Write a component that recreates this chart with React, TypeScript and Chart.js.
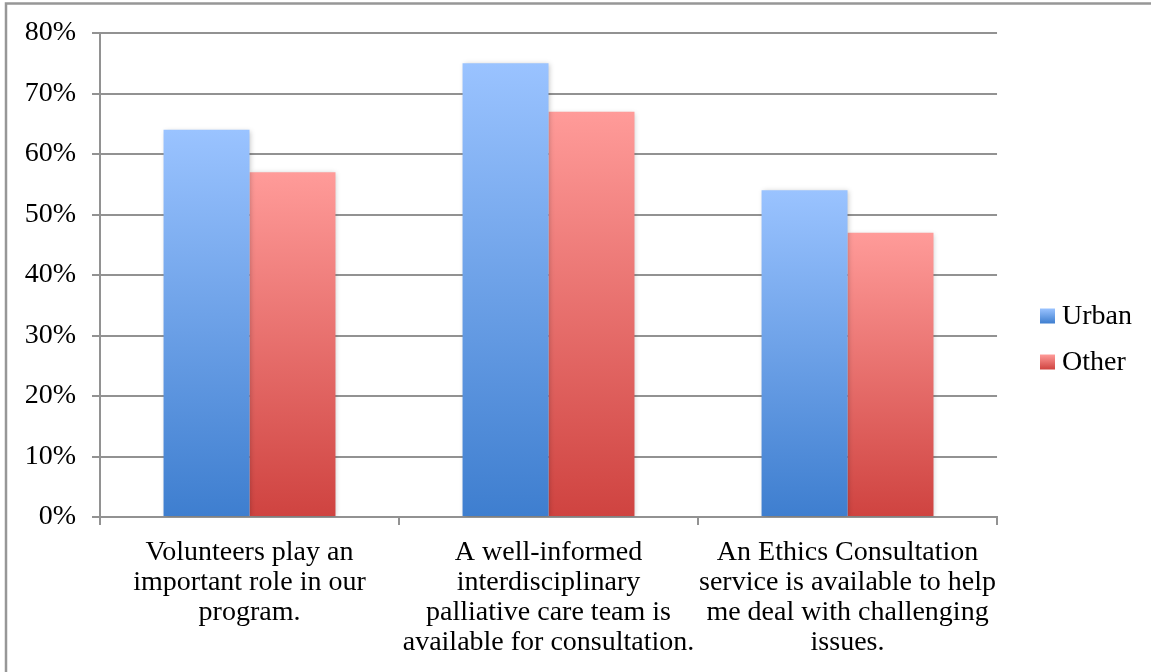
import React, { useEffect, useRef } from "react";
import { Chart, registerables } from "chart.js";

Chart.register(...registerables);

const CATEGORIES: string[][] = [
  ["Volunteers play an", "important role in our", "program."],
  ["A well-informed", "interdisciplinary", "palliative care team is", "available for consultation."],
  ["An Ethics Consultation", "service is available to help", "me deal with challenging", "issues."],
];
const SERIES_NAMES = ["Urban", "Other"];
const URBAN = [64, 75, 54];
const OTHER = [57, 67, 47];
const Y_MIN = 0;
const Y_MAX = 80;
const Y_STEP = 10;

const GRADIENTS: [string, string][] = [
  ["#9AC3FF", "#3E7ECF"],
  ["#FF9B99", "#CF4340"],
];

const FONT = '"Liberation Serif", "Times New Roman", serif';
const GRID = "#929292";

function barGradient(idx: number) {
  return (ctx: any) => {
    const chart = ctx.chart;
    const area = chart.chartArea;
    const y = chart.scales && chart.scales.y;
    if (!area || !y || ctx.type !== "data") return GRADIENTS[idx][1];
    const v = ctx.parsed ? ctx.parsed.y : ctx.raw;
    const top = y.getPixelForValue(v);
    const bottom = y.getPixelForValue(0);
    const g = chart.ctx.createLinearGradient(0, top, 0, bottom);
    g.addColorStop(0, GRADIENTS[idx][0]);
    g.addColorStop(1, GRADIENTS[idx][1]);
    return g;
  };
}

export default function App() {
  const ref = useRef<HTMLCanvasElement | null>(null);

  useEffect(() => {
    document.body.style.margin = "0";
    const canvas = ref.current;
    if (!canvas) return;

    const framePlugin = {
      id: "frame",
      beforeDraw(chart: any) {
        const c = chart.ctx;
        c.save();
        c.fillStyle = "#ffffff";
        c.fillRect(0, 0, chart.width, chart.height);
        c.strokeStyle = "#979797";
        c.lineWidth = 2.5;
        c.beginPath();
        c.moveTo(6, chart.height + 5);
        c.lineTo(6, 3.5);
        c.lineTo(chart.width + 5, 3.5);
        c.stroke();
        c.restore();
      },
    };

    const shadowPlugin = {
      id: "barShadow",
      beforeDatasetsDraw(chart: any) {
        const c = chart.ctx;
        c.save();
        c.shadowColor = "rgba(0,0,0,0.22)";
        c.shadowBlur = 5;
        c.shadowOffsetX = 1;
        c.shadowOffsetY = 1;
      },
      afterDatasetsDraw(chart: any) {
        chart.ctx.restore();
      },
    };

    const legendPlace = {
      id: "legendPlace",
      afterLayout(chart: any) {
        const lg = chart.legend;
        if (!lg) return;
        const w = lg.width;
        lg.left = 1015;
        lg.right = 1015 + w;
        lg.top = 8;
        lg.bottom = 672;
        lg.height = 664;
      },
      afterDraw(chart: any) {
        const lg = chart.legend;
        if (!lg || !lg.legendHitBoxes) return;
        const c = chart.ctx;
        lg.legendHitBoxes.forEach((hb: any, i: number) => {
          const x = hb.left + 7;
          const y = hb.top + hb.height / 2 - 8.5;
          const g = c.createLinearGradient(0, y, 0, y + 15);
          g.addColorStop(0, GRADIENTS[i][0]);
          g.addColorStop(1, GRADIENTS[i][1]);
          c.save();
          c.fillStyle = g;
          c.fillRect(x, y, 15, 15);
          c.restore();
        });
      },
    };

    const chart = new Chart(canvas, {
      type: "bar",
      data: {
        labels: CATEGORIES,
        datasets: [
          {
            label: SERIES_NAMES[0],
            data: URBAN,
            backgroundColor: barGradient(0),
            borderWidth: 0,
            categoryPercentage: 0.575,
            barPercentage: 1,
          },
          {
            label: SERIES_NAMES[1],
            data: OTHER,
            backgroundColor: barGradient(1),
            borderWidth: 0,
            categoryPercentage: 0.575,
            barPercentage: 1,
          },
        ],
      },
      options: {
        responsive: false,
        animation: false,
        devicePixelRatio: 1,
        layout: { padding: { left: 0, top: 33, right: 27, bottom: 0 } },
        plugins: {
          tooltip: { enabled: false },
          legend: {
            position: "right",
            labels: {
              boxWidth: 15,
              boxHeight: 15,
              padding: 18,
              color: "#000",
              font: { family: FONT, size: 28 },
              generateLabels(ch: any) {
                const items = Chart.defaults.plugins.legend.labels.generateLabels(ch);
                return items.map((it: any) => ({
                  ...it,
                  fillStyle: "rgba(0,0,0,0)",
                  strokeStyle: "rgba(0,0,0,0)",
                  lineWidth: 0,
                  fontColor: "#000",
                }));
              },
            },
          },
        },
        scales: {
          x: {
            afterFit(scale: any) {
              scale.height = 155;
            },
            grid: {
              display: true,
              drawOnChartArea: false,
              drawTicks: true,
              tickLength: 8,
              color: GRID,
              lineWidth: 2,
              offset: true,
            },
            border: { display: true, color: GRID, width: 2 },
            ticks: {
              color: "#000",
              maxRotation: 0,
              minRotation: 0,
              autoSkip: false,
              padding: 13,
              font: { family: FONT, size: 28, lineHeight: "30px" },
            },
          },
          y: {
            min: Y_MIN,
            max: Y_MAX,
            afterFit(scale: any) {
              scale.width = 100;
            },
            grid: {
              color: GRID,
              lineWidth: 2,
              tickLength: 8,
              drawTicks: true,
            },
            border: { display: true, color: GRID, width: 2 },
            ticks: {
              stepSize: Y_STEP,
              color: "#000",
              padding: 16,
              font: { family: FONT, size: 28 },
              callback: (v: any) => v + "%",
            },
          },
        },
      },
      plugins: [framePlugin, shadowPlugin, legendPlace],
    });

    return () => chart.destroy();
  }, []);

  return (
    <div style={{ position: "relative", width: 1151, height: 672, overflow: "hidden" }}>
      <canvas ref={ref} width={1151} height={672} style={{ display: "block", width: 1151, height: 672 }} />
    </div>
  );
}
